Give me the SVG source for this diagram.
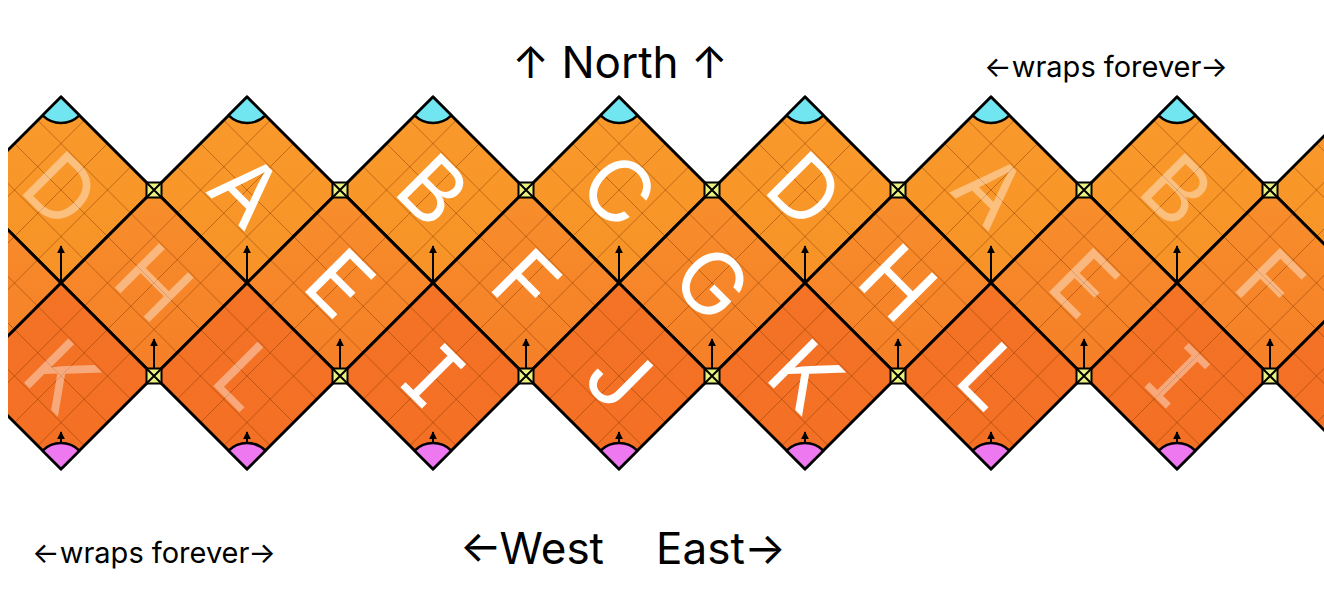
<svg xmlns="http://www.w3.org/2000/svg" xmlns:xlink="http://www.w3.org/1999/xlink" width="1324" height="616" viewBox="0 0 1324 616">
<style>
.ft{fill:url(#gTop)}
.fm{fill:url(#gMid)}
.fb{fill:url(#gBot)}
.grid{fill:none;stroke:#8a3a00;stroke-opacity:0.5;stroke-width:1}
.edge{fill:none;stroke:#000;stroke-width:3;stroke-linejoin:miter}
.L{font-family:Inter,"Liberation Sans",sans-serif;font-size:86px;fill:#fff;text-anchor:middle}
.f{fill-opacity:0.4}
.capT{fill:#71e6f1;stroke:#000;stroke-width:2.5;stroke-linejoin:round}
.capB{fill:#ee78ef;stroke:#000;stroke-width:2.5;stroke-linejoin:round}
.arr{stroke:#000;stroke-width:2;marker-end:url(#ah)}
.lbl{font-family:Inter,"Liberation Sans",sans-serif;fill:#000}
</style>
<defs>
<linearGradient id="gTop" x1="0" y1="0" x2="0" y2="1"><stop offset="0" stop-color="#fa9a2c"/><stop offset="1" stop-color="#f79326"/></linearGradient>
<linearGradient id="gMid" x1="0" y1="0" x2="0" y2="1"><stop offset="0" stop-color="#f88e2c"/><stop offset="1" stop-color="#f57f27"/></linearGradient>
<linearGradient id="gBot" x1="0" y1="0" x2="0" y2="1"><stop offset="0" stop-color="#f47325"/><stop offset="1" stop-color="#f36f24"/></linearGradient>
<marker id="ah" viewBox="0 0 10 10" refX="9" refY="5" markerWidth="4" markerHeight="4" orient="auto" markerUnits="strokeWidth"><path d="M0,0L10,5L0,10Z" fill="#000"/></marker>
<path id="dia" d="M0,-93L93,0L0,93L-93,0Z"/>
<path id="grid" d="M-69.75,23.25L23.25,-69.75M-46.5,46.5L46.5,-46.5M-23.25,69.75L69.75,-23.25M-69.75,-23.25L23.25,69.75M-46.5,-46.5L46.5,46.5M-23.25,-69.75L69.75,23.25"/>
<line id="arrow" x1="0" y1="93" x2="0" y2="56"/>
<path id="capTop" d="M0,-93L-18.38,-74.62A26,26 0 0 0 18.38,-74.62Z"/>
<path id="capBot" d="M0,93L-18.38,74.62A26,26 0 0 1 18.38,74.62Z"/>
<g id="junction">
<rect x="-7.5" y="-7.5" width="15" height="15" fill="#e9f27e" stroke="#000" stroke-width="2"/>
<path d="M-7.5,-7.5L7.5,7.5M7.5,-7.5L-7.5,7.5" stroke="#000" stroke-width="2"/>
</g>
<clipPath id="band"><rect x="8" y="0" width="1316" height="616"/></clipPath>
</defs>
<rect width="1324" height="616" fill="#fff"/>
<g clip-path="url(#band)">
<!-- top row -->
<g id="tile-top-D0" transform="translate(61,190)"><use href="#dia" class="ft"/><use href="#grid" class="grid"/><text class="L f" transform="rotate(45)" y="31">D</text><use href="#dia" class="edge"/><use href="#arrow" class="arr"/><use href="#capTop" class="capT"/></g>
<g id="tile-top-A" transform="translate(247,190)"><use href="#dia" class="ft"/><use href="#grid" class="grid"/><text class="L" transform="rotate(45)" y="31">A</text><use href="#dia" class="edge"/><use href="#arrow" class="arr"/><use href="#capTop" class="capT"/></g>
<g id="tile-top-B" transform="translate(433,190)"><use href="#dia" class="ft"/><use href="#grid" class="grid"/><text class="L" transform="rotate(45)" y="31">B</text><use href="#dia" class="edge"/><use href="#arrow" class="arr"/><use href="#capTop" class="capT"/></g>
<g id="tile-top-C" transform="translate(619,190)"><use href="#dia" class="ft"/><use href="#grid" class="grid"/><text class="L" transform="rotate(45)" y="31">C</text><use href="#dia" class="edge"/><use href="#arrow" class="arr"/><use href="#capTop" class="capT"/></g>
<g id="tile-top-D" transform="translate(805,190)"><use href="#dia" class="ft"/><use href="#grid" class="grid"/><text class="L" transform="rotate(45)" y="31">D</text><use href="#dia" class="edge"/><use href="#arrow" class="arr"/><use href="#capTop" class="capT"/></g>
<g id="tile-top-A2" transform="translate(991,190)"><use href="#dia" class="ft"/><use href="#grid" class="grid"/><text class="L f" transform="rotate(45)" y="31">A</text><use href="#dia" class="edge"/><use href="#arrow" class="arr"/><use href="#capTop" class="capT"/></g>
<g id="tile-top-B2" transform="translate(1177,190)"><use href="#dia" class="ft"/><use href="#grid" class="grid"/><text class="L f" transform="rotate(45)" y="31">B</text><use href="#dia" class="edge"/><use href="#arrow" class="arr"/><use href="#capTop" class="capT"/></g>
<g id="tile-top-C2" transform="translate(1363,190)"><use href="#dia" class="ft"/><use href="#grid" class="grid"/><use href="#dia" class="edge"/><use href="#arrow" class="arr"/><use href="#capTop" class="capT"/></g>
<!-- middle row -->
<g id="tile-mid-G0" transform="translate(-32,283)"><use href="#dia" class="fm"/><use href="#grid" class="grid"/><use href="#dia" class="edge"/><use href="#arrow" class="arr"/></g>
<g id="tile-mid-H0" transform="translate(154,283)"><use href="#dia" class="fm"/><use href="#grid" class="grid"/><text class="L f" transform="rotate(45)" y="31">H</text><use href="#dia" class="edge"/><use href="#arrow" class="arr"/></g>
<g id="tile-mid-E" transform="translate(340,283)"><use href="#dia" class="fm"/><use href="#grid" class="grid"/><text class="L" transform="rotate(45)" y="31">E</text><use href="#dia" class="edge"/><use href="#arrow" class="arr"/></g>
<g id="tile-mid-F" transform="translate(526,283)"><use href="#dia" class="fm"/><use href="#grid" class="grid"/><text class="L" transform="rotate(45)" y="31">F</text><use href="#dia" class="edge"/><use href="#arrow" class="arr"/></g>
<g id="tile-mid-G" transform="translate(712,283)"><use href="#dia" class="fm"/><use href="#grid" class="grid"/><text class="L" transform="rotate(45)" y="31">G</text><use href="#dia" class="edge"/><use href="#arrow" class="arr"/></g>
<g id="tile-mid-H" transform="translate(898,283)"><use href="#dia" class="fm"/><use href="#grid" class="grid"/><text class="L" transform="rotate(45)" y="31">H</text><use href="#dia" class="edge"/><use href="#arrow" class="arr"/></g>
<g id="tile-mid-E2" transform="translate(1084,283)"><use href="#dia" class="fm"/><use href="#grid" class="grid"/><text class="L f" transform="rotate(45)" y="31">E</text><use href="#dia" class="edge"/><use href="#arrow" class="arr"/></g>
<g id="tile-mid-F2" transform="translate(1270,283)"><use href="#dia" class="fm"/><use href="#grid" class="grid"/><text class="L f" transform="rotate(45)" y="31">F</text><use href="#dia" class="edge"/><use href="#arrow" class="arr"/></g>
<!-- bottom row -->
<g id="tile-bot-K0" transform="translate(61,376)"><use href="#dia" class="fb"/><use href="#grid" class="grid"/><text class="L f" transform="rotate(45)" y="31">K</text><use href="#dia" class="edge"/><use href="#arrow" class="arr"/><use href="#capBot" class="capB"/></g>
<g id="tile-bot-L0" transform="translate(247,376)"><use href="#dia" class="fb"/><use href="#grid" class="grid"/><text class="L f" transform="rotate(45)" y="31">L</text><use href="#dia" class="edge"/><use href="#arrow" class="arr"/><use href="#capBot" class="capB"/></g>
<g id="tile-bot-I" transform="translate(433,376)"><use href="#dia" class="fb"/><use href="#grid" class="grid"/><text class="L" transform="rotate(45)" y="31" style="font-feature-settings:'cv08'">I</text><use href="#dia" class="edge"/><use href="#arrow" class="arr"/><use href="#capBot" class="capB"/></g>
<g id="tile-bot-J" transform="translate(619,376)"><use href="#dia" class="fb"/><use href="#grid" class="grid"/><text class="L" transform="rotate(45)" y="31">J</text><use href="#dia" class="edge"/><use href="#arrow" class="arr"/><use href="#capBot" class="capB"/></g>
<g id="tile-bot-K" transform="translate(805,376)"><use href="#dia" class="fb"/><use href="#grid" class="grid"/><text class="L" transform="rotate(45)" y="31">K</text><use href="#dia" class="edge"/><use href="#arrow" class="arr"/><use href="#capBot" class="capB"/></g>
<g id="tile-bot-L" transform="translate(991,376)"><use href="#dia" class="fb"/><use href="#grid" class="grid"/><text class="L" transform="rotate(45)" y="31">L</text><use href="#dia" class="edge"/><use href="#arrow" class="arr"/><use href="#capBot" class="capB"/></g>
<g id="tile-bot-I2" transform="translate(1177,376)"><use href="#dia" class="fb"/><use href="#grid" class="grid"/><text class="L f" transform="rotate(45)" y="31" style="font-feature-settings:'cv08'">I</text><use href="#dia" class="edge"/><use href="#arrow" class="arr"/><use href="#capBot" class="capB"/></g>
<g id="tile-bot-J2" transform="translate(1363,376)"><use href="#dia" class="fb"/><use href="#grid" class="grid"/><use href="#dia" class="edge"/><use href="#arrow" class="arr"/><use href="#capBot" class="capB"/></g>
<!-- junction markers -->
<g id="junctions">
<use href="#junction" x="154" y="190"/><use href="#junction" x="340" y="190"/><use href="#junction" x="526" y="190"/><use href="#junction" x="712" y="190"/><use href="#junction" x="898" y="190"/><use href="#junction" x="1084" y="190"/><use href="#junction" x="1270" y="190"/>
<use href="#junction" x="154" y="376"/><use href="#junction" x="340" y="376"/><use href="#junction" x="526" y="376"/><use href="#junction" x="712" y="376"/><use href="#junction" x="898" y="376"/><use href="#junction" x="1084" y="376"/><use href="#junction" x="1270" y="376"/>
</g>
</g>
<g id="labels">
<text class="lbl" x="620" y="78" font-size="44" text-anchor="middle">↑ North ↑</text>
<text class="lbl" x="1106" y="77" font-size="29" text-anchor="middle">←wraps forever→</text>
<text class="lbl" x="154" y="563" font-size="29" text-anchor="middle">←wraps forever→</text>
<text class="lbl" x="604" y="564" font-size="44" text-anchor="end">←West</text>
<text class="lbl" x="656" y="564" font-size="44">East→</text>
</g>
</svg>
